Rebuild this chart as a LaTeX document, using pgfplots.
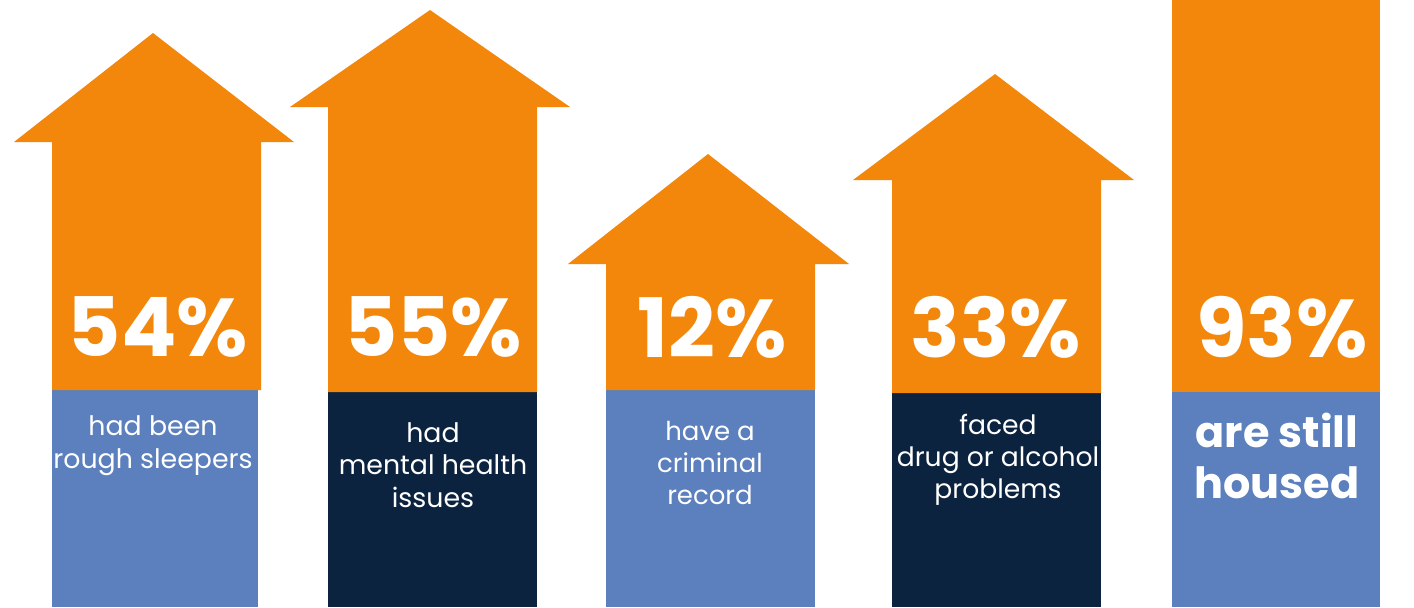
\documentclass[border=0pt]{standalone}
\usepackage{pgfplots}
\pgfplotsset{compat=1.18}
\usepackage{fontspec}
\setmainfont{Poppins}
\definecolor{orng}{HTML}{F2870C}
\definecolor{lblue}{HTML}{5B80BD}
\definecolor{navy}{HTML}{0C2340}
\begin{document}
\begin{tikzpicture}
\begin{axis}[
  scale only axis, width=707pt, height=303.5pt,
  xmin=0, xmax=1414, ymin=0, ymax=607, y dir=reverse,
  hide axis, clip=false,
]
\path (rel axis cs:0,0) rectangle (rel axis cs:1,1);
% bottom bars
\addplot[fill=lblue, draw=none] coordinates {(52,385) (52,607) (258,607) (258,385)};
\addplot[fill=navy, draw=none] coordinates {(328,392) (328,607) (537,607) (537,392)};
\addplot[fill=lblue, draw=none] coordinates {(606,373) (606,607) (815,607) (815,373)};
\addplot[fill=navy, draw=none] coordinates {(892,393) (892,607) (1101,607) (1101,393)};
\addplot[fill=lblue, draw=none] coordinates {(1172,392) (1172,607) (1380,607) (1380,392)};
% orange arrows
\addplot[fill=orng, draw=none] coordinates {(52,390) (52,142) (14,142) (153,33) (294,142) (261,142) (261,390)};
\addplot[fill=orng, draw=none] coordinates {(328,392) (328,107) (290,107) (430,10) (570,107) (537,107) (537,392)};
\addplot[fill=orng, draw=none] coordinates {(606,390) (606,264) (568,264) (708,154) (849,264) (815,264) (815,390)};
\addplot[fill=orng, draw=none] coordinates {(892,393) (892,180) (853,180) (995,74) (1134,180) (1101,180) (1101,393)};
\addplot[fill=orng, draw=none] coordinates {(1172,392) (1172,0) (1380,0) (1380,392)};
% percentages
\addplot[only marks, mark=none, nodes near coords, point meta=explicit symbolic,
  every node near coord/.append style={anchor=center, text=white, font=\fontsize{41}{41}\selectfont\bfseries}]
  coordinates {(158,327) [54\%] (433,327) [55\%] (712,327) [12\%] (996,327) [33\%] (1282,327) [93\%]};
% labels
\node[text=white, align=center, font=\fontsize{13.4}{16.5}\selectfont] at (axis cs:153,446) {had been\\rough sleepers};
\node[text=white, align=center, font=\fontsize{13.4}{16.2}\selectfont] at (axis cs:433,465) {had\\mental health\\issues};
\node[text=white, align=center, font=\fontsize{13}{16}\selectfont] at (axis cs:710,463) {have a\\criminal\\record};
\node[text=white, align=center, font=\fontsize{13.3}{16}\selectfont] at (axis cs:998,460) {faced\\drug or alcohol\\problems};
\node[text=white, align=center, font=\fontsize{21.5}{25.5}\selectfont\bfseries] at (axis cs:1277,456) {are still\\housed};
\end{axis}
\end{tikzpicture}
\end{document}
